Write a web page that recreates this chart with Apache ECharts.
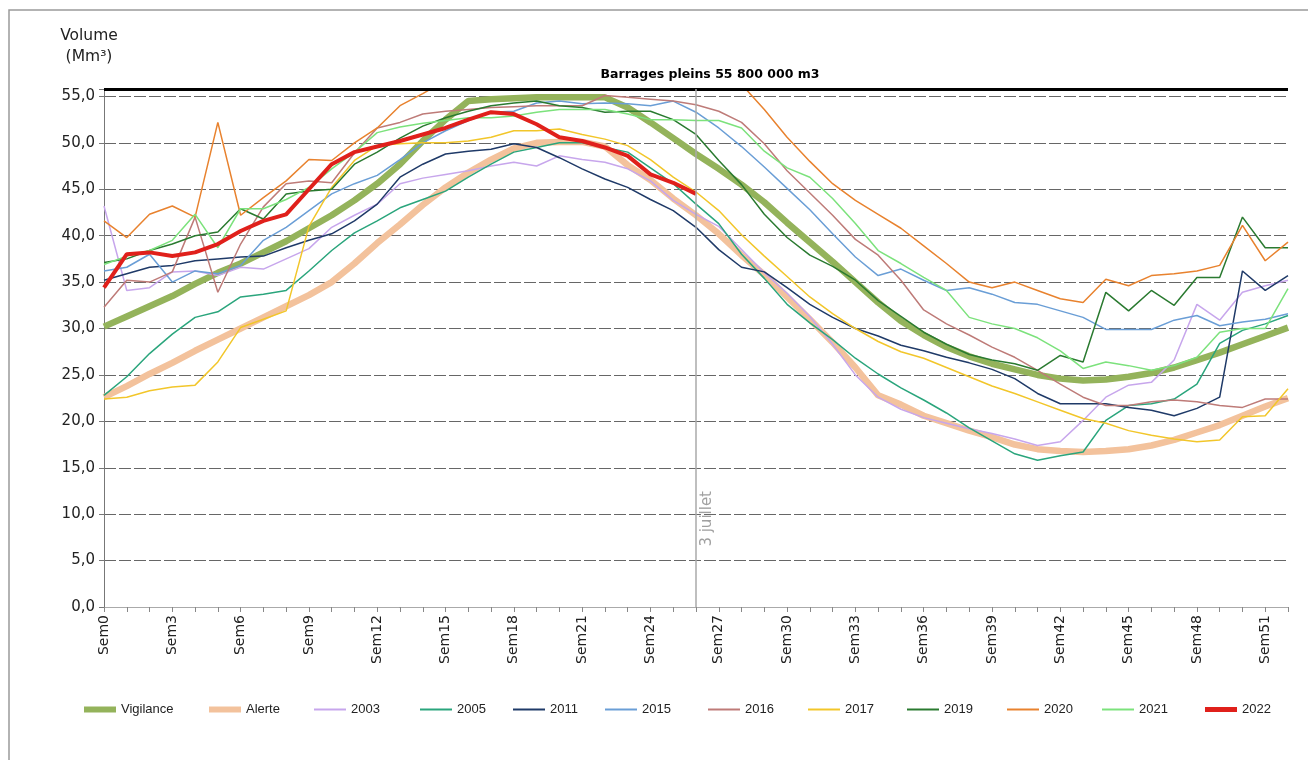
<!DOCTYPE html>
<html>
<head>
<meta charset="utf-8">
<title>Volume des barrages</title>
<script src="https://cdn.jsdelivr.net/npm/echarts@6/dist/echarts.min.js"></script>
<style>
  html, body { margin: 0; padding: 0; background: #fff; }
  #chart { width: 1308px; height: 760px; }
</style>
</head>
<body>
<div id="chart"></div>
<script>
// semaines Sem0 .. Sem52
var weeks = [];
for (var i = 0; i <= 52; i++) weeks.push('Sem' + i);

var fullVolume = 55.8;      // barrages pleins (Mm3)
var juilletWeek = 'Sem26';  // 3 juillet

var vigilance = [30.2, 31.3, 32.4, 33.5, 34.8, 36.0, 37.0, 38.2, 39.4, 40.8,
  42.2, 43.8, 45.6, 47.7, 50.2, 52.5, 54.5, 54.7, 54.8, 54.9,
  54.9, 54.9, 54.9, 53.8, 52.2, 50.5, 48.8, 47.2, 45.5, 43.6,
  41.4, 39.3, 37.2, 35.0, 32.8, 30.8, 29.3, 28.0, 27.0, 26.2,
  25.6, 25.0, 24.6, 24.4, 24.5, 24.8, 25.2, 25.8, 26.6, 27.4,
  28.3, 29.2, 30.1];
var alerte = [22.6, 23.8, 25.1, 26.3, 27.6, 28.8, 30.0, 31.2, 32.4, 33.6,
  35.0, 37.0, 39.2, 41.2, 43.3, 45.2, 46.8, 48.2, 49.4, 50.0,
  50.1, 50.1, 49.6, 47.6, 46.0, 44.0, 42.2, 40.2, 37.9, 35.8,
  33.4, 31.0, 28.5, 25.8, 22.8, 21.8, 20.6, 19.8, 19.0, 18.3,
  17.5, 17.0, 16.8, 16.7, 16.8, 17.0, 17.4, 18.0, 18.8, 19.6,
  20.6, 21.6, 22.5];
var y2003 = [43.2, 34.1, 34.4, 36.1, 36.2, 35.7, 36.6, 36.4, 37.5, 38.6,
  40.9, 42.2, 43.4, 45.6, 46.2, 46.6, 47.0, 47.5, 47.9, 47.5,
  48.6, 48.2, 47.9, 47.2, 45.9, 43.8, 42.3, 41.0, 38.5, 36.0,
  33.8, 31.3, 28.3, 25.0, 22.6, 21.3, 20.4, 19.8, 19.2, 18.7,
  18.1, 17.4, 17.8, 20.1, 22.6, 23.9, 24.2, 26.6, 32.6, 30.9,
  33.9, 34.6, 35.2];
var y2005 = [22.8, 24.8, 27.3, 29.4, 31.2, 31.8, 33.4, 33.7, 34.1, 36.2,
  38.4, 40.3, 41.6, 43.0, 43.9, 44.8, 46.3, 47.7, 49.0, 49.5,
  50.0, 50.0, 49.5, 49.0, 47.3, 45.6, 43.4, 41.3, 38.0, 35.4,
  32.6, 30.6, 28.8, 26.8, 25.1, 23.6, 22.3, 20.9, 19.3, 17.9,
  16.5, 15.8, 16.3, 16.7, 20.1, 21.7, 21.9, 22.4, 24.0, 28.4,
  29.8, 30.5, 31.4];
var y2011 = [35.2, 35.9, 36.6, 36.8, 37.3, 37.5, 37.7, 37.8, 38.7, 39.5,
  40.2, 41.6, 43.4, 46.3, 47.7, 48.8, 49.1, 49.3, 49.9, 49.5,
  48.4, 47.2, 46.1, 45.2, 43.9, 42.7, 40.9, 38.5, 36.6, 36.1,
  34.4, 32.6, 31.2, 30.0, 29.2, 28.2, 27.6, 26.9, 26.3, 25.6,
  24.6, 23.0, 21.9, 21.9, 21.9, 21.5, 21.2, 20.6, 21.4, 22.6,
  36.2, 34.1, 35.7];
var y2015 = [36.2, 36.6, 38.0, 35.0, 36.2, 35.9, 36.8, 39.5, 40.9, 42.7,
  44.5, 45.6, 46.5, 48.2, 50.0, 51.3, 52.4, 53.3, 53.4, 54.3,
  54.5, 54.2, 54.3, 54.2, 54.0, 54.5, 53.3, 51.6, 49.6, 47.4,
  45.1, 42.8, 40.2, 37.7, 35.7, 36.4, 35.2, 34.1, 34.4, 33.7,
  32.8, 32.6, 31.9, 31.2, 29.9, 29.9, 29.9, 30.9, 31.4, 30.3,
  30.7, 31.0, 31.6];
var y2016 = [32.3, 35.2, 35.0, 36.1, 42.0, 33.9, 39.1, 43.1, 45.6, 45.9,
  45.7, 48.9, 51.6, 52.2, 53.1, 53.4, 53.6, 53.8, 53.9, 54.0,
  54.0, 54.0, 55.1, 54.9, 54.7, 54.5, 54.1, 53.4, 52.2, 49.9,
  47.0, 44.6, 42.2, 39.6, 37.9, 35.2, 32.0, 30.5, 29.3, 28.0,
  26.9, 25.5, 24.0, 22.6, 21.7, 21.7, 22.1, 22.3, 22.1, 21.7,
  21.5, 22.4, 22.4];
var y2017 = [22.4, 22.6, 23.3, 23.7, 23.9, 26.4, 30.1, 31.0, 31.9, 41.0,
  45.2, 48.1, 49.7, 49.9, 50.0, 50.0, 50.2, 50.6, 51.3, 51.3,
  51.5, 50.9, 50.4, 49.7, 48.2, 46.3, 44.7, 42.7, 40.1, 37.8,
  35.6, 33.4, 31.6, 30.0, 28.6, 27.5, 26.8, 25.8, 24.8, 23.8,
  23.0, 22.1, 21.2, 20.3, 19.8, 19.0, 18.5, 18.1, 17.8, 18.0,
  20.5, 20.6, 23.5];
var y2019 = [37.1, 37.5, 38.4, 39.1, 40.0, 40.4, 42.9, 41.8, 44.5, 44.8,
  45.0, 47.7, 49.0, 50.5, 51.8, 52.7, 53.4, 54.0, 54.3, 54.5,
  54.0, 53.8, 53.3, 53.4, 53.4, 52.5, 50.9, 48.1, 45.5, 42.3,
  39.8, 37.9, 36.7, 35.2, 33.0, 31.3, 29.6, 28.3, 27.2, 26.6,
  26.2, 25.5, 27.1, 26.4, 33.9, 31.9, 34.1, 32.5, 35.5, 35.5,
  42.0, 38.7, 38.7];
var y2020 = [41.6, 39.8, 42.3, 43.2, 42.0, 52.2, 42.2, 44.1, 45.9, 48.2,
  48.1, 50.0, 51.6, 54.0, 55.3, 56.7, 57.5, 58.0, 58.0, 58.0,
  58.0, 58.0, 58.0, 58.0, 58.0, 57.8, 57.5, 57.2, 56.3, 53.6,
  50.6, 48.0, 45.6, 43.8, 42.3, 40.8, 38.9, 37.0, 35.0, 34.4,
  35.0, 34.1, 33.2, 32.8, 35.3, 34.6, 35.7, 35.9, 36.2, 36.8,
  41.1, 37.3, 39.3];
var y2021 = [36.9, 37.8, 38.4, 39.5, 42.3, 38.7, 42.9, 42.9, 43.9, 45.2,
  47.2, 49.0, 51.1, 51.7, 52.1, 52.4, 52.7, 52.7, 52.9, 53.3,
  53.6, 53.6, 53.6, 53.1, 52.5, 52.5, 52.4, 52.4, 51.6, 49.1,
  47.3, 46.3, 44.0, 41.3, 38.4, 37.0, 35.5, 34.1, 31.2, 30.5,
  30.0, 29.0, 27.6, 25.7, 26.4, 26.0, 25.5, 26.0, 26.9, 29.6,
  30.0, 30.0, 34.3];
var y2022 = [34.4, 38.0, 38.2, 37.8, 38.2, 39.1, 40.5, 41.6, 42.3, 45.0,
  47.7, 49.0, 49.6, 50.2, 50.9, 51.6, 52.5, 53.3, 53.1, 52.0,
  50.6, 50.2, 49.5, 48.6, 46.6, 45.7, 44.5];

var font = '"DejaVu Sans", Verdana, sans-serif';
var legendFont = '"Liberation Sans", Arial, sans-serif';

function curve(name, data, color, width, z) {
  return {
    name: name,
    type: 'line',
    data: data,
    symbol: 'none',
    z: z,
    lineStyle: { color: color, width: width },
    itemStyle: { color: color }
  };
}

var series = [
  curve('Vigilance', vigilance, '#94b35b', 6.5, 2),
  curve('Alerte', alerte, '#f3c29c', 6.5, 2),
  curve('2003', y2003, '#c7a6ec', 1.5, 3),
  curve('2005', y2005, '#2aa57c', 1.5, 3),
  curve('2011', y2011, '#1f3a68', 1.5, 3),
  curve('2015', y2015, '#6a9ed6', 1.5, 3),
  curve('2016', y2016, '#be7b78', 1.5, 3),
  curve('2017', y2017, '#f2c62a', 1.5, 3),
  curve('2019', y2019, '#2a7a30', 1.5, 3),
  curve('2020', y2020, '#e8822e', 1.5, 3),
  curve('2021', y2021, '#7ce27c', 1.5, 3),
  curve('2022', y2022, '#e0201b', 4, 4)
];

series[0].markLine = {
  symbol: 'none',
  silent: true,
  data: [
    {
      yAxis: fullVolume,
      lineStyle: { color: '#000', width: 3, type: 'solid' },
      label: {
        show: true, position: 'insideMiddleTop', distance: 8,
        padding: [0, 0, 0, 28],
        formatter: 'Barrages pleins 55 800 000 m3',
        fontWeight: 'bold', fontSize: 12.5, color: '#000', fontFamily: font
      }
    },
    {
      xAxis: juilletWeek,
      lineStyle: { color: '#aaa', width: 1.5, type: 'solid' },
      label: { show: false }
    }
  ]
};

// one small legend per entry, placed like the original
var legendNames = ['Vigilance', 'Alerte', '2003', '2005', '2011', '2015',
  '2016', '2017', '2019', '2020', '2021', '2022'];
var legendLeft = [84, 209, 314, 420, 513, 605, 708, 808, 907, 1007, 1102, 1205];
var legendThick = [6, 6, 2, 2, 2, 2, 2, 2, 2, 2, 2, 5];
var legends = legendNames.map(function (n, k) {
  return {
    data: [{ name: n, icon: 'rect' }],
    left: legendLeft[k],
    top: 703,
    itemWidth: 32,
    itemHeight: legendThick[k],
    itemGap: 0,
    padding: 0,
    textStyle: { fontSize: 13, color: '#222', fontFamily: legendFont }
  };
});

var chart = echarts.init(document.getElementById('chart'));
chart.setOption({
  animation: false,
  backgroundColor: '#fff',
  textStyle: { fontFamily: font },
  grid: { left: 104, right: 20, top: 89, bottom: 153 },
  legend: legends,
  xAxis: {
    type: 'category',
    data: weeks,
    boundaryGap: false,
    axisLine: { lineStyle: { color: '#aaa', width: 1 } },
    axisTick: { show: true, interval: 0, length: 5, lineStyle: { color: '#888' } },
    axisLabel: { interval: 2, rotate: 90, fontSize: 14, color: '#222', margin: 8, fontFamily: font },
    splitLine: { show: false }
  },
  yAxis: {
    type: 'value',
    min: 0,
    max: fullVolume,
    interval: 5,
    name: 'Volume\n(Mm³)',
    nameLocation: 'end',
    nameGap: 22,
    nameTextStyle: { align: 'center', padding: [0, 30, 0, 0], fontSize: 15.5, color: '#222', lineHeight: 21, fontFamily: font },
    axisLine: { show: true, lineStyle: { color: '#777' } },
    axisTick: { show: true, length: 5, lineStyle: { color: '#777' } },
    axisLabel: {
      fontSize: 15, color: '#222', fontFamily: font, margin: 9,
      formatter: function (v) {
        return v % 5 === 0 ? v.toFixed(1).replace('.', ',') : '';
      }
    },
    splitLine: { lineStyle: { color: '#666', width: 1, type: [12, 3] } }
  },
  series: series
});

// texte "3 juillet" le long du trait vertical
var p = chart.convertToPixel({ xAxisIndex: 0, yAxisIndex: 0 }, [juilletWeek, 9.5]);
chart.setOption({
  graphic: [
    {
      type: 'rect', silent: true, z: -10,
      shape: { x: 9, y: 10, width: 1320, height: 780 },
      style: { fill: 'none', stroke: '#9a9a9a', lineWidth: 1.5 }
    },
    {
      type: 'text', silent: true,
      x: p[0] + 11, y: p[1], rotation: Math.PI / 2,
      style: {
        text: '3 juillet', fill: '#a0a0a0', fontSize: 15, fontFamily: font,
        align: 'center', verticalAlign: 'middle'
      }
    }
  ]
});
</script>
</body>
</html>
